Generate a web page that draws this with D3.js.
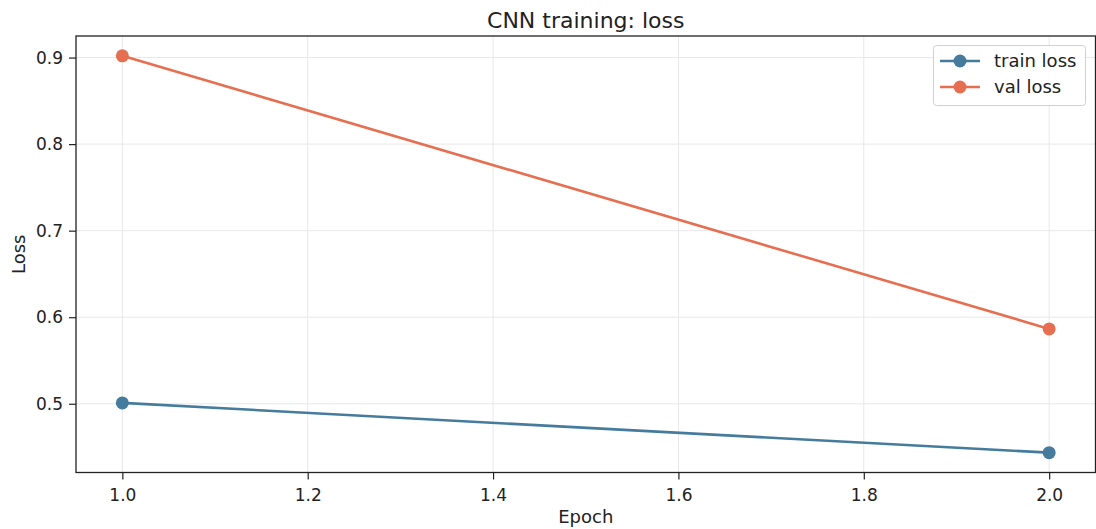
<!DOCTYPE html>
<html><head><meta charset="utf-8">
<script src="https://cdn.jsdelivr.net/npm/d3@7"></script>
<style>body{margin:0;background:#fff}svg{display:block;font-family:"DejaVu Sans",sans-serif}</style>
</head><body><svg id="c" width="1096" height="529"></svg>
<script>
const epochs = [1, 2];
const trainLoss = [0.501, 0.4435];
const valLoss = [0.902, 0.5865];
const xTicks = [1.0, 1.2, 1.4, 1.6, 1.8, 2.0];
const yTicks = [0.5, 0.6, 0.7, 0.8, 0.9];
const seriesNames = ["train loss", "val loss"];
const colors = ["#457b9d", "#e76f51"];

const svg = d3.select("#c");
const L = 76, R = 1095.5, T = 36, B = 472.5;
const x = d3.scaleLinear().domain([0.95, 2.05]).range([L, R]);
const allY = trainLoss.concat(valLoss);
const yMin = d3.min(allY), yMax = d3.max(allY), pad = (yMax - yMin) * 0.05;
const y = d3.scaleLinear().domain([yMin - pad, yMax + pad]).range([B, T]);

// grid
const g = svg.append("g");
g.selectAll(".vx").data(xTicks).join("line").attr("x1", d => x(d)).attr("x2", d => x(d)).attr("y1", T).attr("y2", B).attr("stroke", "#e8e8e8").attr("stroke-width", 1);
g.selectAll(".hy").data(yTicks).join("line").attr("y1", d => y(d)).attr("y2", d => y(d)).attr("x1", L).attr("x2", R).attr("stroke", "#e8e8e8").attr("stroke-width", 1);

// axes
const xa = svg.append("g").attr("transform", `translate(0,${B})`).call(d3.axisBottom(x).tickValues(xTicks).tickFormat(d3.format(".1f")).tickSize(7).tickPadding(9));
const ya = svg.append("g").attr("transform", `translate(${L},0)`).call(d3.axisLeft(y).tickValues(yTicks).tickFormat(d3.format(".1f")).tickSize(7).tickPadding(6));
[xa, ya].forEach(a => {
  a.select(".domain").remove();
  a.attr("font-size", null).attr("font-family", null);
  a.selectAll("text").attr("font-size", 17).attr("fill", "#222");
  a.selectAll("line").attr("stroke", "#222").attr("stroke-width", 1.2);
});
svg.append("rect").attr("x", L).attr("y", T).attr("width", R - L).attr("height", B - T).attr("fill", "none").attr("stroke", "#222").attr("stroke-width", 1.3);

// series
const series = [trainLoss, valLoss];
series.forEach((vals, i) => {
  const pts = epochs.map((e, j) => [e, vals[j]]);
  svg.append("path").datum(pts).attr("fill", "none").attr("stroke", colors[i]).attr("stroke-width", 2.6)
    .attr("d", d3.line().x(d => x(d[0])).y(d => y(d[1])));
  svg.selectAll(null).data(pts).join("circle").attr("cx", d => x(d[0])).attr("cy", d => y(d[1])).attr("r", 6.5).attr("fill", colors[i]);
});

// title & labels
svg.append("text").attr("x", (L + R) / 2).attr("y", 28).attr("text-anchor", "middle").attr("font-size", 22).attr("fill", "#222").text("CNN training: loss");
svg.append("text").attr("x", (L + R) / 2).attr("y", 523).attr("text-anchor", "middle").attr("font-size", 18).attr("fill", "#222").text("Epoch");
svg.append("text").attr("transform", `translate(25,${(T + B) / 2}) rotate(-90)`).attr("text-anchor", "middle").attr("font-size", 18).attr("fill", "#222").text("Loss");

// legend
const lg = svg.append("g");
lg.append("rect").attr("x", 933.5).attr("y", 45.5).attr("width", 152).attr("height", 60).attr("rx", 3).attr("fill", "#fff").attr("fill-opacity", 0.85).attr("stroke", "#d0d0d0");
seriesNames.forEach((n, i) => {
  const yy = 61 + i * 26;
  lg.append("line").attr("x1", 940).attr("x2", 980).attr("y1", yy).attr("y2", yy).attr("stroke", colors[i]).attr("stroke-width", 2.6);
  lg.append("circle").attr("cx", 960).attr("cy", yy).attr("r", 6.5).attr("fill", colors[i]);
  lg.append("text").attr("x", 994).attr("y", yy + 6).attr("font-size", 18).attr("fill", "#222").text(n);
});
</script></body></html>
